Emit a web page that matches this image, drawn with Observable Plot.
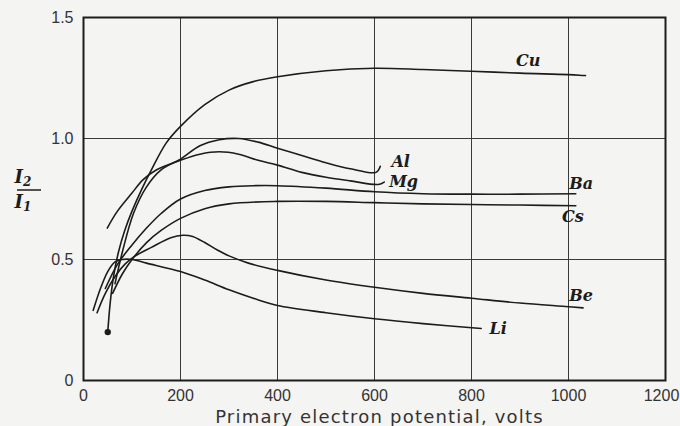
<!DOCTYPE html>
<html><head><meta charset="utf-8">
<script src="https://cdn.jsdelivr.net/npm/d3@7"></script>
<script src="https://cdn.jsdelivr.net/npm/@observablehq/plot@0.6"></script>
<style>
html,body{margin:0;padding:0;background:#f4f4f2;}
#chart{position:relative;width:680px;height:426px;}
</style></head><body><div id="chart"></div>
<script>
// Secondary-emission ratio I2/I1 vs primary electron potential (volts)
const cu = [[50,0.20],[55,0.32],[62,0.43],[72,0.53],[85,0.62],[100,0.70],[120,0.79],[140,0.87],[170,0.98],[200,1.05],[250,1.14],[300,1.20],[350,1.235],[400,1.255],[500,1.28],[600,1.29],[700,1.285],[800,1.278],[900,1.27],[1000,1.264],[1035,1.26]];
const al = [[65,0.40],[80,0.53],[103,0.69],[130,0.80],[160,0.87],[200,0.915],[240,0.97],[280,0.995],[320,1.0],[360,0.985],[400,0.96],[450,0.93],[500,0.90],[550,0.875],[603,0.86],[612,0.885]];
const mg = [[49,0.63],[70,0.70],[100,0.775],[123,0.83],[150,0.87],[200,0.91],[240,0.935],[280,0.945],[320,0.935],[360,0.91],[400,0.89],[450,0.86],[500,0.84],[550,0.825],[608,0.81],[620,0.82]];
const ba = [[45,0.38],[70,0.48],[100,0.56],[130,0.63],[160,0.69],[200,0.75],[250,0.785],[300,0.80],[350,0.805],[400,0.805],[500,0.795],[600,0.78],[700,0.772],[800,0.77],[900,0.77],[1015,0.772]];
const cs = [[60,0.36],[80,0.44],[100,0.50],[130,0.57],[160,0.62],[200,0.67],[250,0.71],[300,0.73],[400,0.74],[500,0.74],[600,0.735],[700,0.73],[800,0.727],[900,0.725],[1015,0.722]];
const be = [[28,0.28],[45,0.36],[65,0.43],[85,0.48],[103,0.51],[140,0.55],[180,0.59],[205,0.60],[225,0.595],[250,0.57],[275,0.54],[300,0.515],[340,0.485],[400,0.455],[500,0.415],[600,0.385],[700,0.36],[800,0.34],[900,0.32],[1000,0.305],[1030,0.30]];
const li = [[20,0.29],[35,0.38],[50,0.45],[65,0.49],[80,0.50],[100,0.50],[130,0.485],[200,0.45],[250,0.415],[300,0.375],[350,0.34],[400,0.31],[500,0.28],[600,0.255],[700,0.235],[820,0.215]];

const seriesNames = ["Cu","Al","Mg","Ba","Cs","Be","Li"];
const seriesData = [cu, al, mg, ba, cs, be, li];
const labelX = [917, 654, 660, 1026, 1009, 1026, 855];
const labelY = [1.32, 0.902, 0.82, 0.813, 0.675, 0.351, 0.214];

const xTicks = [0, 200, 400, 600, 800, 1000, 1200];
const xTickLabels = ["0","200","400","600","800","1000","1200"];
const yTicks = [0, 0.5, 1.0, 1.5];
const yTickLabels = ["0","0.5","1.0","1.5"];

const rows = seriesData.flatMap((s, k) => s.map(([v, r]) => ({metal: seriesNames[k], v, r})));
const labels = seriesNames.map((n, k) => ({name: n, x: labelX[k], y: labelY[k]}));
const startDot = [{v: cu[0][0], r: cu[0][1]}];

const ink = "#1c1c1c";
const tickFont = "Liberation Sans";
const chart = Plot.plot({
  width: 680, height: 426,
  marginLeft: 83, marginRight: 15, marginTop: 17, marginBottom: 46,
  style: {background: "#f4f4f2", fontFamily: tickFont, fontSize: "16px", color: "#333"},
  x: {domain: [0, 1200]},
  y: {domain: [0, 1.5]},
  marks: [
    Plot.gridX(xTicks, {stroke: "#3a3a3a", strokeOpacity: 1, strokeWidth: 1}),
    Plot.gridY(yTicks, {stroke: "#3a3a3a", strokeOpacity: 1, strokeWidth: 1}),
    Plot.frame({stroke: ink, strokeWidth: 2}),
    Plot.line(rows, {x: "v", y: "r", z: "metal", curve: "catmull-rom", stroke: ink, strokeWidth: 1.6}),
    Plot.dot(startDot, {x: "v", y: "r", r: 3.2, fill: ink}),
    Plot.text(labels, {x: "x", y: "y", text: "name", fontFamily: "DejaVu Serif", fontStyle: "italic", fontWeight: "bold", fontSize: 16, fill: ink}),
    Plot.axisX(xTicks, {tickSize: 0, tickPadding: 9, tickFormat: (d) => xTickLabels[xTicks.indexOf(d)], fontSize: 16, fill: "#333",
      label: "Primary electron potential, volts", labelAnchor: "center", labelArrow: "none", labelOffset: 42}),
    Plot.axisY(yTicks, {tickSize: 0, tickPadding: 10, tickFormat: (d) => yTickLabels[yTicks.indexOf(d)], fontSize: 16, fill: "#333", label: null})
  ]
});
document.getElementById("chart").appendChild(chart);

const svgSel = d3.select(chart);
// x-axis title: larger, lettering-like spacing
svgSel.selectAll("[aria-label='x-axis label'] text")
  .style("font-size", "18px").style("font-family", "DejaVu Sans").style("letter-spacing", "1.2px")
  .attr("transform", function () { return (d3.select(this).attr("transform") || "") + " translate(5,0)"; });
// keep the last x tick label inside the page
svgSel.selectAll("[aria-label='x-axis tick label'] text")
  .filter(function () { return this.textContent === "1200"; })
  .attr("dx", -4);

// y-axis fraction label I2 / I1
const fracG = svgSel.append("g").attr("font-family", "DejaVu Serif").attr("font-style", "italic").attr("font-weight", "bold").attr("fill", ink);
const numText = fracG.append("text").attr("x", 23).attr("y", 183).attr("font-size", 18);
numText.append("tspan").text("I");
numText.append("tspan").attr("font-size", 12).attr("dy", 3).text("2");
fracG.append("line").attr("x1", 17).attr("x2", 41).attr("y1", 190).attr("y2", 190).attr("stroke", ink).attr("stroke-width", 1.5);
const denText = fracG.append("text").attr("x", 23).attr("y", 208).attr("font-size", 18);
denText.append("tspan").text("I");
denText.append("tspan").attr("font-size", 12).attr("dy", 3).text("1");
</script></body></html>
